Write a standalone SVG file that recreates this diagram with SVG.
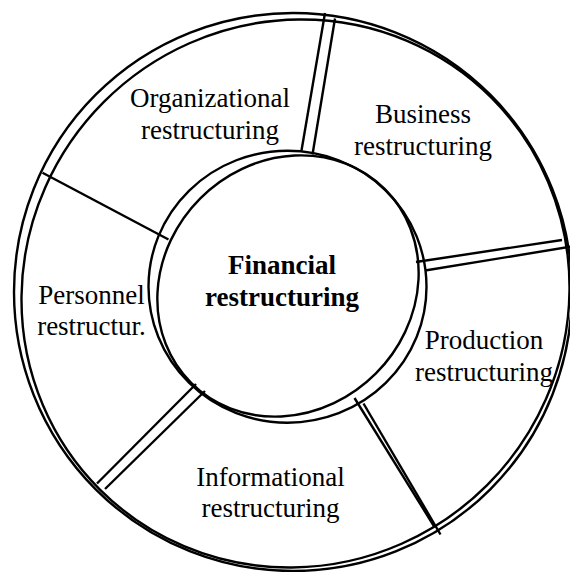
<svg xmlns="http://www.w3.org/2000/svg" width="570" height="572" viewBox="0 0 570 572">
  <style>
    .ring { fill: none; stroke: #000; stroke-width: 2.4; }
    .div { stroke: #000; stroke-width: 2.4; fill: none; }
    .lbl { font-family: "Liberation Serif", "Times New Roman", serif; font-size: 27px; fill: #000; text-anchor: middle; }
    .bold { font-weight: bold; }
  </style>
  <rect x="0" y="0" width="570" height="572" fill="#fff"/>

  <!-- outer double ring -->
  <g id="outer-ring">
    <circle class="ring" cx="293" cy="292" r="279"/>
    <ellipse class="ring" cx="295.5" cy="293.5" rx="277" ry="271" transform="rotate(-45 295.5 293.5)"/>
  </g>

  <!-- sector dividers -->
  <g id="connectors">
    <line class="div" x1="325" y1="13" x2="301.5" y2="150.5"/>
    <line class="div" x1="335" y1="18.5" x2="312.5" y2="154.5"/>
    <line class="div" x1="416" y1="262" x2="562" y2="240"/>
    <line class="div" x1="425" y1="270.5" x2="572" y2="246.5"/>
    <line class="div" x1="354.5" y1="398" x2="434.5" y2="527"/>
    <line class="div" x1="363.5" y1="403.5" x2="440.5" y2="534.5"/>
    <line class="div" x1="196" y1="384" x2="97" y2="483.5"/>
    <line class="div" x1="205" y1="391" x2="105" y2="489"/>
    <line class="div" x1="42.5" y1="172.7" x2="168.5" y2="239.5" stroke-width="2.8"/>
  </g>

  <!-- centre: financial restructuring -->
  <g id="financial">
    <ellipse class="ring" cx="287.5" cy="286.7" rx="139" ry="136"/>
    <ellipse class="ring" cx="288" cy="286" rx="137" ry="124" transform="rotate(-45 288 286)"/>
    <text class="lbl bold" x="282" y="274">Financial</text>
    <text class="lbl bold" x="282" y="306">restructuring</text>
  </g>

  <g id="organizational">
    <text class="lbl" x="210" y="107">Organizational</text>
    <text class="lbl" x="210" y="138.5">restructuring</text>
  </g>

  <g id="business">
    <text class="lbl" x="423" y="123">Business</text>
    <text class="lbl" x="423" y="154.5">restructuring</text>
  </g>

  <g id="production">
    <text class="lbl" x="484" y="349">Production</text>
    <text class="lbl" x="484" y="380.5">restructuring</text>
  </g>

  <g id="informational">
    <text class="lbl" x="270.5" y="485.5">Informational</text>
    <text class="lbl" x="270.5" y="516.5">restructuring</text>
  </g>

  <g id="personnel">
    <text class="lbl" x="91.5" y="303.5">Personnel</text>
    <text class="lbl" x="91.5" y="335">restructur.</text>
  </g>
</svg>
